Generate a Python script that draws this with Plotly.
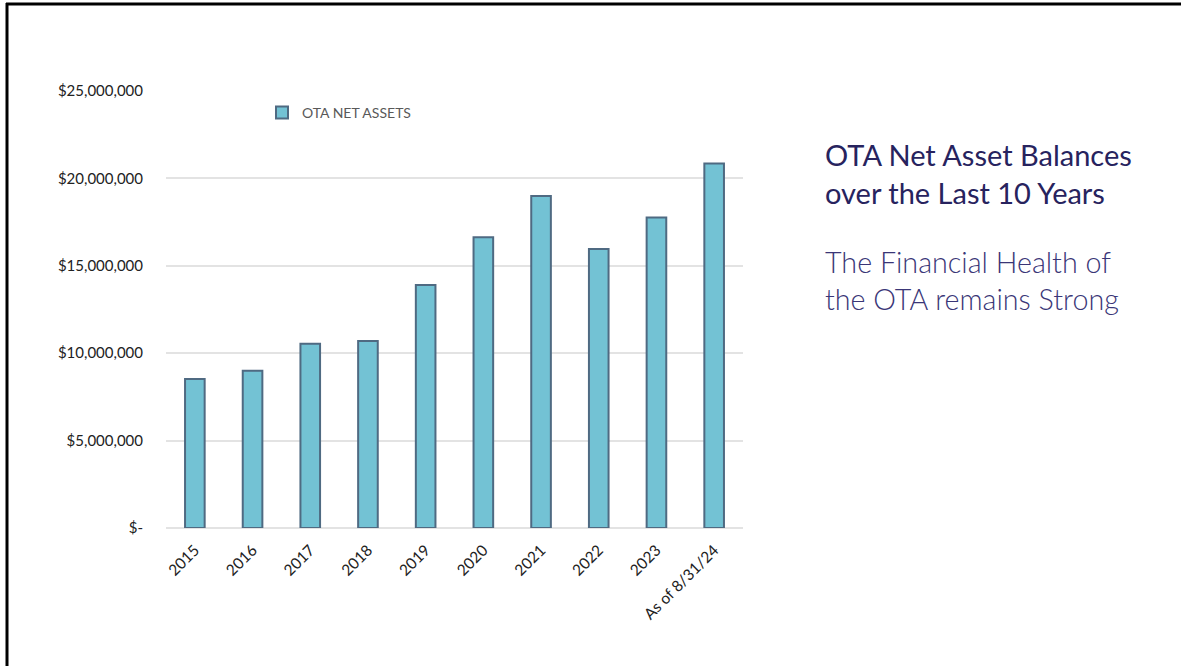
import plotly.graph_objects as go

categories = ["2015", "2016", "2017", "2018", "2019", "2020", "2021", "2022", "2023", "As of 8/31/24"]
net_assets = [8520000, 8990000, 10540000, 10700000, 13900000, 16630000, 19000000, 15960000, 17770000, 20850000]
y_ticks = [0, 5000000, 10000000, 15000000, 20000000, 25000000]
y_tick_labels = ["$-", "$5,000,000", "$10,000,000", "$15,000,000", "$20,000,000", "$25,000,000"]

W, H = 1181, 666
L, R, T, B = 166, 743, 91, 528

def px(x):
    return (x - L) / (R - L)

def py(y):
    return (B - y) / (B - T)

fig = go.Figure()
fig.add_trace(go.Bar(
    x=categories, y=net_assets, name="OTA NET ASSETS",
    marker=dict(color="#73C2D4", line=dict(color="#4F6A82", width=2)),
    width=0.34, showlegend=True,
))

fig.update_layout(
    width=W, height=H,
    margin=dict(l=L, r=W - R, t=T, b=H - B, pad=0),
    paper_bgcolor="white", plot_bgcolor="white",
    font=dict(family="Lato, 'Open Sans', sans-serif", color="#333333"),
    legend=dict(
        x=px(262), y=py(97), xanchor="left", yanchor="top",
        orientation="h", font=dict(size=14, color="#595959"),
        itemwidth=30, bgcolor="rgba(0,0,0,0)",
    ),
    xaxis=dict(
        tickangle=-45, tickfont=dict(size=15.5, color="#222222"),
        showgrid=False, showline=False,
        ticks="outside", ticklen=6, tickcolor="rgba(0,0,0,0)",
    ),
    yaxis=dict(
        range=[0, 25000000], tickvals=y_ticks, ticktext=y_tick_labels,
        tickfont=dict(size=15, color="#222222"),
        showgrid=True, gridcolor="#E3E3E3", gridwidth=2,
        zeroline=True, zerolinecolor="#E3E3E3", zerolinewidth=2,
        ticks="outside", ticklen=19, tickcolor="rgba(0,0,0,0)",
        showline=False,
    ),
    bargap=0.66,
)

fig.add_annotation(
    text="OTA Net Asset Balances<br>over the Last 10 Years",
    xref="paper", yref="paper", x=px(823), y=py(135),
    xanchor="left", yanchor="top", showarrow=False, align="left",
    font=dict(family="Lato, 'Open Sans', sans-serif", size=29, color="#27235E"),
)
fig.add_annotation(
    text="The Financial Health of<br>the OTA remains Strong",
    xref="paper", yref="paper", x=px(823), y=py(243),
    xanchor="left", yanchor="top", showarrow=False, align="left",
    font=dict(family="Lato, 'Open Sans', sans-serif", size=28.7, color="#3A3677", weight=300),
)

# slide border (top and left)
fig.add_shape(type="line", xref="paper", yref="paper",
              x0=px(7), x1=px(7), y0=py(3), y1=py(666), line=dict(color="black", width=3))
fig.add_shape(type="line", xref="paper", yref="paper",
              x0=px(6), x1=px(1181), y0=py(4), y1=py(4), line=dict(color="black", width=3))

fig.write_html(
    "out.html",
    config={"displayModeBar": False},
    post_script="document.body.style.margin='0';document.body.style.overflow='hidden';",
)
